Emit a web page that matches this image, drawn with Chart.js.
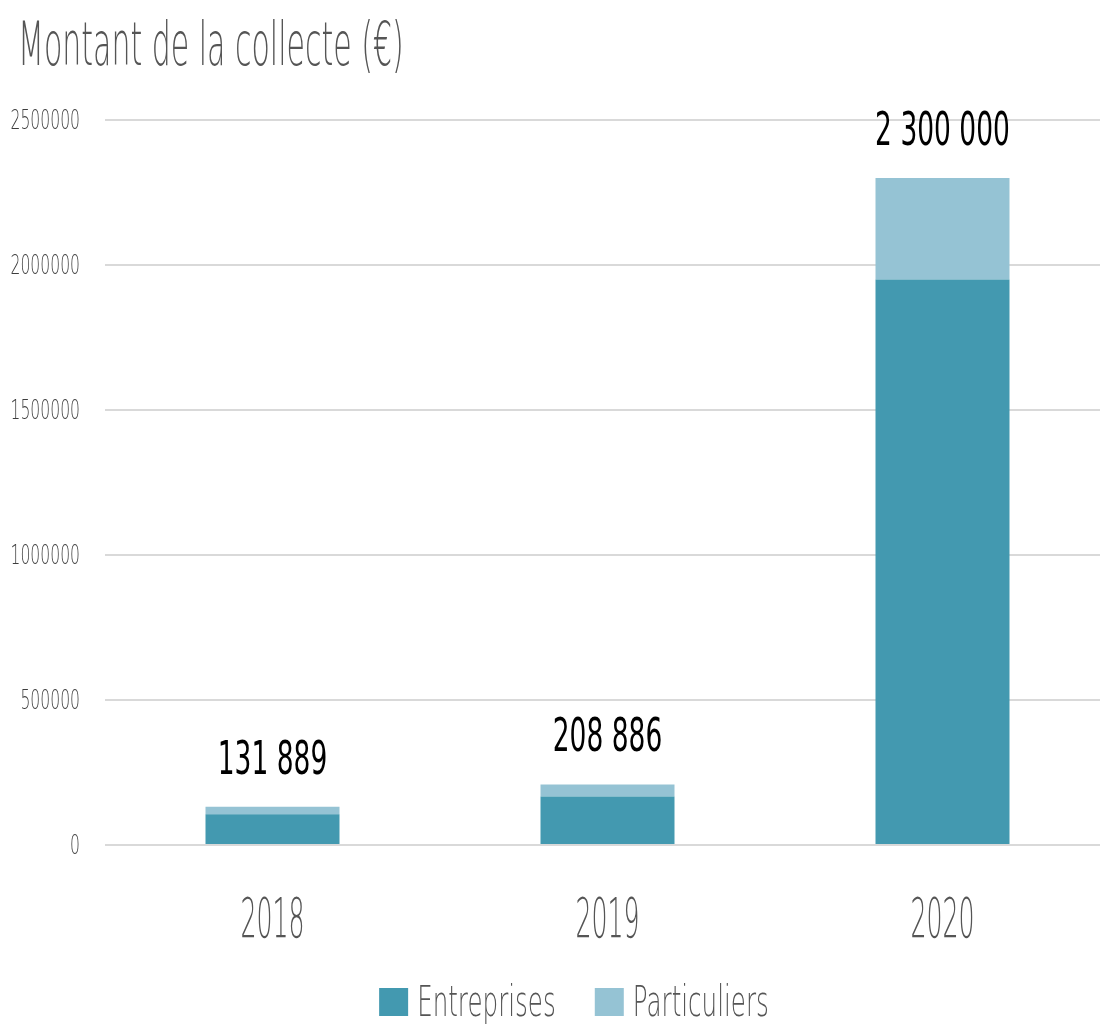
<!DOCTYPE html>
<html>
<head>
<meta charset="utf-8">
<script src="https://cdn.jsdelivr.net/npm/chart.js@4"></script>
<style>
  html, body { margin: 0; padding: 0; background: #fff; overflow: hidden; }
  #wrap { width: 1110px; height: 1027px; }
</style>
</head>
<body>
<div id="wrap"><canvas id="myChart"></canvas></div>
<script>
const years = ['2018', '2019', '2020'];
const entreprises = [106000, 167000, 1950000];
const particuliers = [25889, 41886, 350000];
const yTicks = [0, 500000, 1000000, 1500000, 2000000, 2500000];
const titleText = 'Montant de la collecte (€)';

const FONT = "'DejaVu Sans Condensed', 'DejaVu Sans', sans-serif";
const LIGHT = "200 {s}px 'DejaVu Sans', sans-serif";
const GREY = '#555555';
const TICK_GREY = '#3d3d3d';

// thousands with a space: 131 889
function fmt(v) {
    return String(v).replace(/\B(?=(\d{3})+(?!\d))/g, ' ');
}

// narrow text: DejaVu squeezed horizontally
function narrowText(ctx, text, x, y, font, sx, align, color) {
    ctx.save();
    ctx.font = font;
    ctx.fillStyle = color;
    ctx.textBaseline = 'alphabetic';
    const w = ctx.measureText(text).width * sx;
    let left = x;
    if (align === 'center') left = x - w / 2;
    if (align === 'right') left = x - w;
    ctx.translate(left, y);
    ctx.scale(sx, 1);
    ctx.textAlign = 'left';
    ctx.fillText(text, 0, 0);
    ctx.restore();
    return w;
}

function light(size) { return LIGHT.replace('{s}', size); }

const textLayer = {
    id: 'textLayer',
    afterDraw(chart) {
        const ctx = chart.ctx;
        const area = chart.chartArea;
        const xs = chart.scales.x;
        const ys = chart.scales.y;

        // title
        narrowText(ctx, titleText, 18, 65, light(60), 0.5, 'left', GREY);

        // y tick labels
        ys.ticks.forEach(function(t) {
            narrowText(ctx, String(t.value), area.left - 25, ys.getPixelForValue(t.value) + 9, light(26), 0.6, 'right', TICK_GREY);
        });

        // x tick labels
        chart.data.labels.forEach(function(lab, i) {
            narrowText(ctx, lab, xs.getPixelForTick(i), area.bottom + 92, light(56), 0.45, 'center', GREY);
        });

        // totals above the stacks
        const meta = chart.getDatasetMeta(chart.data.datasets.length - 1);
        meta.data.forEach(function(bar, i) {
            let total = 0;
            chart.data.datasets.forEach(function(ds) { total += ds.data[i]; });
            const y = ys.getPixelForValue(total);
            narrowText(ctx, fmt(total), bar.x, y - 33, '46px ' + FONT, 0.64, 'center', '#000');
        });

        // legend
        const box = 29, gapBox = 9, gapItem = 39, sx = 0.585;
        ctx.font = light(42);
        const items = chart.data.datasets.map(function(ds) {
            return { text: ds.label, color: ds.backgroundColor, w: ctx.measureText(ds.label).width * sx };
        });
        let total = 0;
        items.forEach(function(it, i) { total += box + gapBox + it.w + (i ? gapItem : 0); });
        let x = 574 - total / 2;
        const base = chart.height - 11;
        items.forEach(function(it) {
            ctx.fillStyle = it.color;
            ctx.fillRect(x, base - 28, box, box - 1);
            x += box + gapBox;
            narrowText(ctx, it.text, x, base, light(42), sx, 'left', GREY);
            x += it.w + gapItem;
        });
    }
};

const ctx = document.getElementById('myChart').getContext('2d');
const myChart = new Chart(ctx, {
    type: 'bar',
    data: {
        labels: years,
        datasets: [{
            label: 'Entreprises',
            data: entreprises,
            backgroundColor: '#4399b0',
            borderWidth: 0,
            categoryPercentage: 1,
            barPercentage: 0.4,
        },
        {
            label: 'Particuliers',
            data: particuliers,
            backgroundColor: '#95c3d4',
            borderWidth: 0,
            categoryPercentage: 1,
            barPercentage: 0.4,
        }]
    },
    options: {
        responsive: true,
        maintainAspectRatio: false,
        animation: false,
        layout: { padding: { left: 0, right: 0, top: 120, bottom: 0 } },
        plugins: {
            title: { display: false },
            legend: { display: false },
            tooltip: { enabled: false },
        },
        scales: {
            x: {
                stacked: true,
                grid: { display: false },
                border: { display: false },
                ticks: { display: false },
                afterFit(scale) { scale.height = 182; },
            },
            y: {
                stacked: true,
                min: 0,
                max: 2500000,
                afterBuildTicks(scale) {
                    scale.ticks = yTicks.map(function(v) { return { value: v }; });
                },
                afterFit(scale) { scale.width = 105; },
                grid: { color: '#d9d9d9', lineWidth: 2, drawTicks: false },
                border: { display: false },
                ticks: { display: false },
            },
        },
    },
    plugins: [textLayer],
});
</script>
</body>
</html>
